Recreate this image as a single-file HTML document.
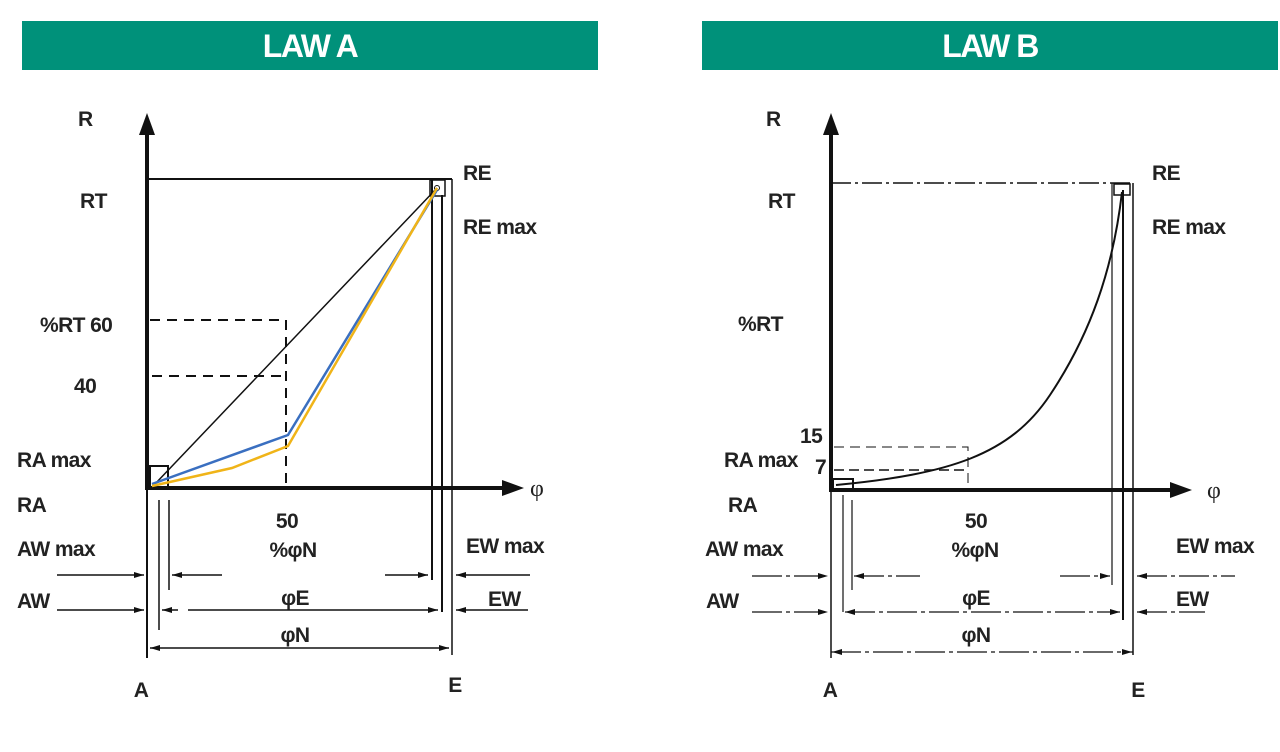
<!DOCTYPE html>
<html><head><meta charset="utf-8"><style>
html,body{margin:0;padding:0;background:#fff;}
svg{display:block}
text{font-family:"Liberation Sans Narrow","Liberation Sans",sans-serif;font-weight:bold;fill:#222;font-size:21px;letter-spacing:-0.6px}
.h{fill:#fff;font-size:32px;text-anchor:middle;letter-spacing:-1.5px}
.m{text-anchor:middle}
</style></head><body>
<svg width="1280" height="752" viewBox="0 0 1280 752" xmlns="http://www.w3.org/2000/svg">
<rect x="22" y="21" width="576" height="49" fill="#00917a"/>
<text class="h" x="310" y="57">LAW A</text>
<rect x="702" y="21" width="576" height="49" fill="#00917a"/>
<text class="h" x="990" y="57">LAW B</text>

<!-- LAW A -->
<g stroke="#111" fill="none">
<line x1="147" y1="130" x2="147" y2="490" stroke-width="4"/>
<polygon points="147,113 139,135 155,135" fill="#111" stroke="none"/>
<line x1="147" y1="488" x2="505" y2="488" stroke-width="4"/>
<polygon points="524,488 502,480 502,496" fill="#111" stroke="none"/>
<line x1="147" y1="179" x2="452" y2="179" stroke-width="2"/>
<line x1="432" y1="179" x2="432" y2="580" stroke-width="2"/>
<line x1="442" y1="195" x2="442" y2="612" stroke-width="2"/>
<line x1="452" y1="179" x2="452" y2="655" stroke-width="1.5"/>
<rect x="430" y="180" width="15" height="16" stroke-width="1.5"/>
<circle cx="437" cy="188" r="2.5" stroke-width="1"/>
<rect x="150" y="466" width="18" height="22" stroke-width="2"/>
<path d="M150 320 H286 V488 M152 376 H286" stroke-width="2" stroke-dasharray="10,7"/>
<line x1="147" y1="490" x2="147" y2="658" stroke-width="2"/>
<line x1="159" y1="500" x2="159" y2="630" stroke-width="1.5"/>
<line x1="169" y1="500" x2="169" y2="590" stroke-width="1.5"/>
<path d="M57 575 H144 M172 575 H222 M385 575 H428 M456 575 H530" stroke-width="1.5"/>
<path d="M57 610 H144 M162 610 H178 M188 610 H438 M456 610 H528" stroke-width="1.5"/>
<path d="M150 648 H449" stroke-width="1.5"/>
<line x1="155" y1="484" x2="437" y2="188" stroke-width="1.5"/>
<polyline points="152,484 288,435 437,190" stroke="#3a6fc0" stroke-width="2.5"/>
<polyline points="152,486 232,468 288,446 437,188" stroke="#f0b418" stroke-width="2.5"/>
</g>
<g fill="#111">
<polygon points="144,575 134,572 134,578"/><polygon points="172,575 182,572 182,578"/>
<polygon points="428,575 418,572 418,578"/><polygon points="456,575 466,572 466,578"/>
<polygon points="144,610 134,607 134,613"/><polygon points="162,610 172,607 172,613"/>
<polygon points="438,610 428,607 428,613"/><polygon points="456,610 466,607 466,613"/>
<polygon points="150,648 160,645 160,651"/><polygon points="449,648 439,645 439,651"/>
</g>
<text x="78" y="126">R</text>
<text x="80" y="208">RT</text>
<text x="40" y="332">%RT  60</text>
<text x="74" y="393">40</text>
<text x="17" y="467">RA max</text>
<text x="17" y="512">RA</text>
<text class="m" x="287" y="528">50</text>
<text class="m" x="293" y="557">%φN</text>
<text x="17" y="556">AW max</text>
<text x="17" y="608">AW</text>
<text class="m" x="295" y="605">φE</text>
<text class="m" x="295" y="642">φN</text>
<text x="466" y="553">EW max</text>
<text x="488" y="606">EW</text>
<text x="463" y="180">RE</text>
<text x="463" y="234">RE max</text>
<text class="m" x="141" y="697">A</text>
<text class="m" x="455" y="692">E</text>
<text x="530" y="496" style="font-weight:normal;font-family:'Liberation Serif',serif;font-size:24px">φ</text>

<!-- LAW B -->
<g stroke="#111" fill="none">
<line x1="831" y1="130" x2="831" y2="492" stroke-width="4"/>
<polygon points="831,113 823,135 839,135" fill="#111" stroke="none"/>
<line x1="831" y1="490" x2="1172" y2="490" stroke-width="4"/>
<polygon points="1192,490 1170,482 1170,498" fill="#111" stroke="none"/>
<line x1="831" y1="183" x2="1133" y2="183" stroke-width="1.5" stroke-dasharray="20,4,3,4"/>
<line x1="1112" y1="183" x2="1112" y2="585" stroke-width="1.2"/>
<line x1="1123" y1="190" x2="1123" y2="620" stroke-width="2"/>
<line x1="1133" y1="183" x2="1133" y2="655" stroke-width="1.5"/>
<rect x="1114" y="184" width="16" height="11" stroke-width="1.5"/>
<rect x="833" y="479" width="20" height="11" stroke-width="2"/>
<path d="M834 447 H968 V490" stroke-width="1" stroke-dasharray="10,6"/>
<path d="M834 470 H968" stroke-width="1.5" stroke-dasharray="10,5"/>
<path d="M836 485 C 950 474, 1010 455, 1050 395 C 1090 335, 1113 270, 1122 192" stroke-width="2"/>
<line x1="831" y1="492" x2="831" y2="658" stroke-width="1.5"/>
<line x1="843" y1="495" x2="843" y2="612" stroke-width="1.2"/>
<line x1="852" y1="500" x2="852" y2="590" stroke-width="1.2"/>
<path d="M752 576 H828 M854 576 H920 M1060 576 H1110 M1137 576 H1235" stroke-width="1.2" stroke-dasharray="30,4,4,4"/>
<path d="M752 612 H828 M845 612 H1120 M1137 612 H1205" stroke-width="1.2" stroke-dasharray="30,4,4,4"/>
<path d="M831 652 H1133" stroke-width="1.2" stroke-dasharray="30,4,4,4"/>
</g>
<g fill="#111">
<polygon points="828,576 818,573 818,579"/><polygon points="854,576 864,573 864,579"/>
<polygon points="1110,576 1100,573 1100,579"/><polygon points="1137,576 1147,573 1147,579"/>
<polygon points="828,612 818,609 818,615"/><polygon points="845,612 855,609 855,615"/>
<polygon points="1120,612 1110,609 1110,615"/><polygon points="1137,612 1147,609 1147,615"/>
<polygon points="832,652 842,649 842,655"/><polygon points="1132,652 1122,649 1122,655"/>
</g>
<text x="766" y="126">R</text>
<text x="768" y="208">RT</text>
<text x="738" y="331">%RT</text>
<text x="800" y="443">15</text>
<text x="815" y="474">7</text>
<text x="724" y="467">RA max</text>
<text x="728" y="512">RA</text>
<text class="m" x="976" y="528">50</text>
<text class="m" x="975" y="557">%φN</text>
<text x="705" y="556">AW max</text>
<text x="706" y="608">AW</text>
<text class="m" x="976" y="605">φE</text>
<text class="m" x="976" y="642">φN</text>
<text x="1176" y="553">EW max</text>
<text x="1176" y="606">EW</text>
<text x="1152" y="180">RE</text>
<text x="1152" y="234">RE max</text>
<text class="m" x="830" y="697">A</text>
<text class="m" x="1138" y="697">E</text>
<text x="1207" y="498" style="font-weight:normal;font-family:'Liberation Serif',serif;font-size:24px">φ</text>
</svg>
</body></html>
